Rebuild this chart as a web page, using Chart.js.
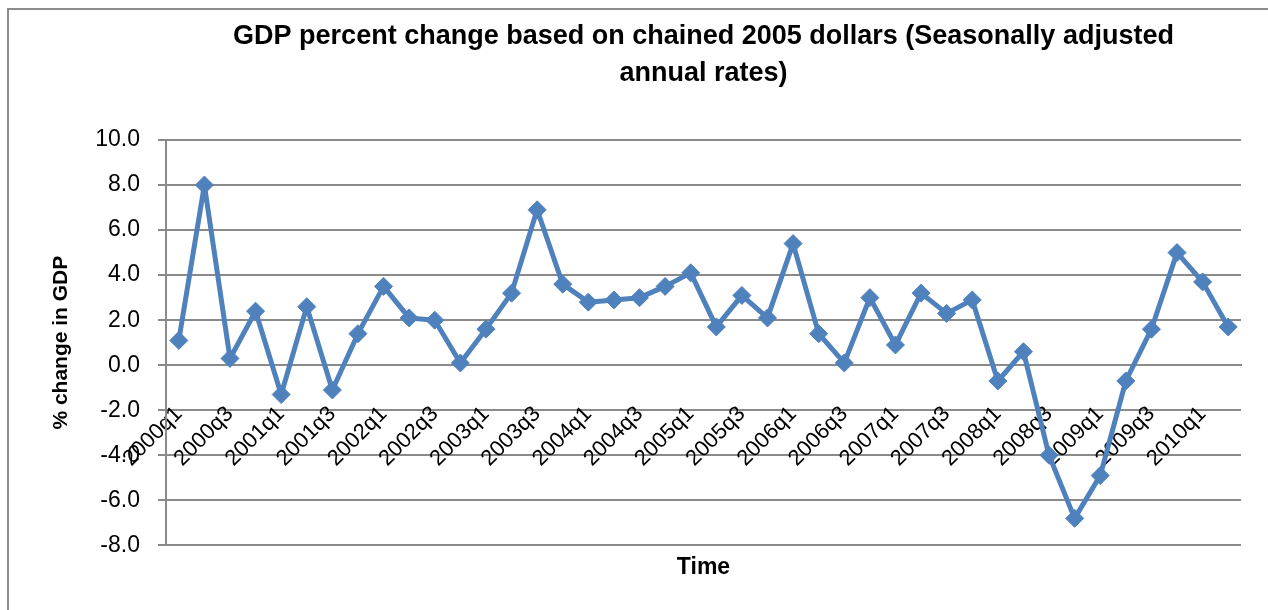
<!DOCTYPE html>
<html>
<head>
<meta charset="utf-8">
<script src="https://cdn.jsdelivr.net/npm/chart.js@4.4.1/dist/chart.umd.min.js"></script>
<style>
  html, body { margin: 0; padding: 0; background: #fff; }
  #wrap { position: relative; width: 1268px; height: 610px; overflow: hidden; }
  #frame {
    position: absolute; left: 7px; top: 8px; width: 1300px; height: 700px;
    border-left: 2px solid #8c8c8c; border-top: 2px solid #8c8c8c;
  }
  #gdpChart { position: absolute; left: 0; top: 0; }
</style>
</head>
<body>
<div id="wrap">
  <div id="frame"></div>
  <canvas id="gdpChart" width="1268" height="610"></canvas>
</div>
<script>
// Quarters 2000q1 .. 2010q2
const quarters = [
  "2000q1", "2000q2", "2000q3", "2000q4",
  "2001q1", "2001q2", "2001q3", "2001q4",
  "2002q1", "2002q2", "2002q3", "2002q4",
  "2003q1", "2003q2", "2003q3", "2003q4",
  "2004q1", "2004q2", "2004q3", "2004q4",
  "2005q1", "2005q2", "2005q3", "2005q4",
  "2006q1", "2006q2", "2006q3", "2006q4",
  "2007q1", "2007q2", "2007q3", "2007q4",
  "2008q1", "2008q2", "2008q3", "2008q4",
  "2009q1", "2009q2", "2009q3", "2009q4",
  "2010q1", "2010q2",
];

// % change in GDP (seasonally adjusted annual rates)
const gdpChange = [
  1.1, 8.0, 0.3, 2.4,
  -1.3, 2.6, -1.1, 1.4,
  3.5, 2.1, 2.0, 0.1,
  1.6, 3.2, 6.9, 3.6,
  2.8, 2.9, 3.0, 3.5,
  4.1, 1.7, 3.1, 2.1,
  5.4, 1.4, 0.1, 3.0,
  0.9, 3.2, 2.3, 2.9,
  -0.7, 0.6, -4.0, -6.8,
  -4.9, -0.7, 1.6, 5.0,
  3.7, 1.7,
];

const yMin = -8;
const yMax = 10;
const yStep = 2;

const gridGrey = "#8a8a8a";
const lineBlue = "#4f81bd";

Chart.defaults.font.family = "'Liberation Sans', Arial, sans-serif";
Chart.defaults.color = "#000";

const ctx = document.getElementById("gdpChart").getContext("2d");
new Chart(ctx, {
  type: "line",
  data: {
    labels: quarters,
    datasets: [
      {
        label: "% change in GDP",
        data: gdpChange,
        borderColor: lineBlue,
        backgroundColor: lineBlue,
        borderWidth: 5,
        borderJoinStyle: "round",
        tension: 0,
        pointStyle: "rectRot",
        pointRadius: 9,
        pointBorderWidth: 1,
        pointBackgroundColor: lineBlue,
        pointBorderColor: lineBlue,
      },
    ],
  },
  options: {
    responsive: false,
    animation: false,
    layout: {
      padding: { left: 0, right: 27, top: 0, bottom: 0 },
    },
    plugins: {
      legend: { display: false },
      tooltip: { enabled: false },
      title: {
        display: true,
        fullSize: false,
        text: [
          "GDP percent change based on chained 2005 dollars (Seasonally adjusted",
          "annual rates)",
        ],
        font: { size: 27, weight: "bold", lineHeight: 1.37 },
        padding: { top: 18, bottom: 48 },
      },
      subtitle: {
        display: true,
        position: "bottom",
        fullSize: false,
        text: "Time",
        font: { size: 23, weight: "bold", lineHeight: 1.2 },
        padding: { top: 8, bottom: 29 },
      },
    },
    scales: {
      x: {
        type: "category",
        position: { y: 0 },
        offset: true,
        grid: { display: false },
        border: { display: true, color: gridGrey, width: 2 },
        ticks: {
          autoSkip: false,
          minRotation: 45,
          maxRotation: 45,
          padding: 28,
          font: { size: 22 },
          // Excel shows every second quarter
          callback: function (value, index) {
            return index % 2 === 0 ? this.getLabelForValue(value) : "";
          },
        },
        afterFit: (scale) => {
          // labels sit inside the plot, don't let them squeeze the chart area
          scale.paddingLeft = 0;
          scale.paddingRight = 0;
        },
      },
      y: {
        min: yMin,
        max: yMax,
        grid: {
          color: gridGrey,
          lineWidth: 2,
          tickLength: 8,
        },
        border: { display: true, color: gridGrey, width: 2 },
        ticks: {
          stepSize: yStep,
          padding: 18,
          font: { size: 23 },
          callback: (v) => v.toFixed(1),
        },
        title: {
          display: true,
          text: "% change in GDP",
          font: { size: 21, weight: "bold", lineHeight: 1.2 },
          padding: { top: 49, bottom: 0 },
        },
        afterFit: (scale) => {
          scale.width = 166;
        },
      },
    },
  },
});
</script>
</body>
</html>
